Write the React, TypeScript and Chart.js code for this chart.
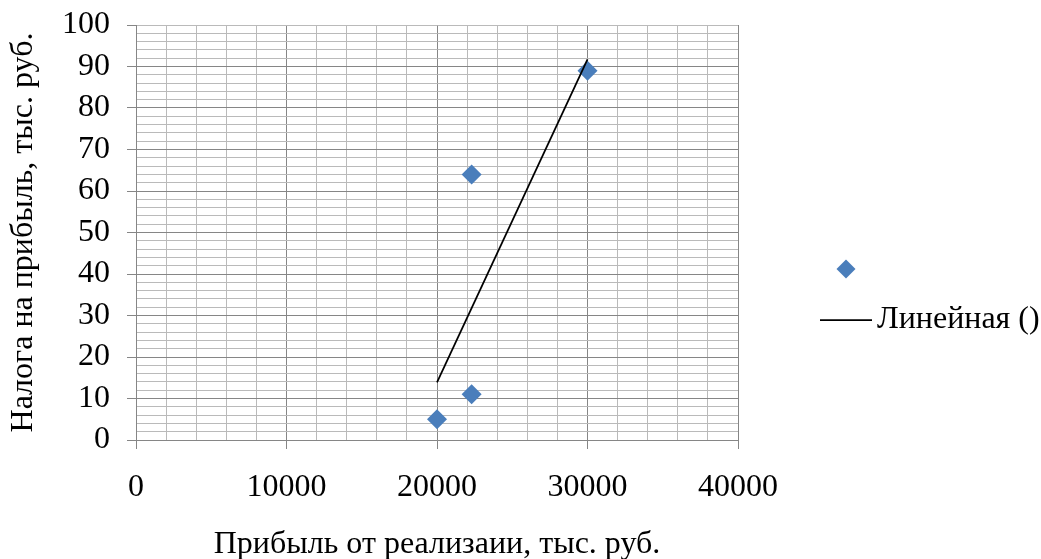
import React, { useEffect, useRef } from "react";
import { Chart, registerables } from "chart.js";

Chart.register(...registerables);

// ---- data ----
const profitValues = [20000, 22300, 22300, 30000];
const taxValues = [5, 11, 64, 89];
const trendXValues = [20000, 30000];
const trendYValues = [13.9, 91.7];
const xTickLabels = [0, 10000, 20000, 30000, 40000];
const yTickLabels = [0, 10, 20, 30, 40, 50, 60, 70, 80, 90, 100];
const xTitle = "Прибыль от реализаии, тыс. руб.";
const yTitle = "Налога на прибыль, тыс. руб.";
const trendLegendLabel = "Линейная ()";

const FONT = "'Liberation Serif', 'Times New Roman', serif";
const MAJOR = "#868686";
const MINOR = "#bababa";
const BLUE = "#4a7ebb";

const legendPlugin = {
  id: "customLegend",
  afterDraw(chart: any) {
    const ctx = chart.ctx;
    ctx.save();
    // diamond for the scatter series
    const cx = 846;
    const cy = 269;
    const r = 9.5;
    ctx.fillStyle = BLUE;
    ctx.beginPath();
    ctx.moveTo(cx, cy - r);
    ctx.lineTo(cx + r, cy);
    ctx.lineTo(cx, cy + r);
    ctx.lineTo(cx - r, cy);
    ctx.closePath();
    ctx.fill();
    // line for the trend
    ctx.strokeStyle = "#000";
    ctx.lineWidth = 1.75;
    ctx.beginPath();
    ctx.moveTo(820, 320);
    ctx.lineTo(872, 320);
    ctx.stroke();
    ctx.fillStyle = "#000";
    ctx.font = `32px ${FONT}`;
    ctx.textBaseline = "middle";
    ctx.textAlign = "left";
    ctx.fillText(trendLegendLabel, 877, 320);
    ctx.restore();
  },
};

export default function App() {
  const ref = useRef<HTMLCanvasElement | null>(null);

  useEffect(() => {
    if (!ref.current) return;
    const chart = new Chart(ref.current, {
      type: "scatter",
      data: {
        datasets: [
          {
            type: "line",
            label: trendLegendLabel,
            data: trendXValues.map((x, i) => ({ x, y: trendYValues[i] })),
            borderColor: "#000",
            borderWidth: 1.75,
            pointRadius: 0,
            fill: false,
            tension: 0,
          } as any,
          {
            label: "",
            data: profitValues.map((x, i) => ({ x, y: taxValues[i] })),
            pointStyle: "rectRot",
            pointRadius: 10,
            pointBackgroundColor: BLUE,
            pointBorderColor: BLUE,
            pointBorderWidth: 0,
            showLine: false,
          },
        ],
      },
      options: {
        animation: false,
        responsive: false,
        maintainAspectRatio: false,
        layout: { padding: { left: 0, top: 25, right: 303, bottom: 0 } },
        plugins: {
          legend: { display: false },
          tooltip: { enabled: false },
        },
        scales: {
          x: {
            type: "linear",
            min: 0,
            max: 40000,
            ticks: {
              stepSize: 2000,
              autoSkip: false,
              maxRotation: 0,
              padding: 19,
              color: "#000",
              font: { family: FONT, size: 32 },
              callback: (v: any) => (xTickLabels.includes(Number(v)) ? String(v) : ""),
            },
            grid: {
              color: (c: any) => (c.tick && c.tick.value % 10000 === 0 ? MAJOR : MINOR),
              tickColor: (c: any) =>
                c.tick && xTickLabels.includes(c.tick.value) ? MAJOR : "rgba(0,0,0,0)",
              tickLength: 9,
              lineWidth: 1,
            },
            border: { color: MAJOR, width: 1 },
            title: {
              display: true,
              text: xTitle,
              color: "#000",
              font: { family: FONT, size: 32, lineHeight: 1 },
              padding: { top: 0, bottom: -2 },
            },
            afterFit: (s: any) => {
              s.height = 119;
              s.paddingLeft = 0;
              s.paddingRight = 0;
            },
          },
          y: {
            type: "linear",
            min: 0,
            max: 100,
            ticks: {
              stepSize: 2,
              autoSkip: false,
              padding: 17,
              color: "#000",
              font: { family: FONT, size: 32 },
              callback: (v: any) => (yTickLabels.includes(Number(v)) ? String(v) : ""),
            },
            grid: {
              color: (c: any) =>
                c.tick && c.tick.value % 10 === 0 && c.tick.value !== 100 ? MAJOR : MINOR,
              tickColor: (c: any) =>
                c.tick && yTickLabels.includes(c.tick.value) ? MAJOR : "rgba(0,0,0,0)",
              tickLength: 9,
              lineWidth: 1,
            },
            border: { color: MAJOR, width: 1 },
            title: {
              display: true,
              text: yTitle,
              color: "#000",
              font: { family: FONT, size: 32, lineHeight: 1.2 },
              padding: { top: 4, bottom: 0 },
            },
            afterFit: (s: any) => {
              s.width = 136;
              s.paddingTop = 0;
              s.paddingBottom = 0;
            },
          },
        },
      },
      plugins: [legendPlugin],
    });
    return () => chart.destroy();
  }, []);

  return (
    <div style={{ position: "absolute", left: 0, top: 0, width: 1041, height: 559, background: "#fff" }}>
      <canvas ref={ref} width={1041} height={559} style={{ display: "block" }} />
    </div>
  );
}
